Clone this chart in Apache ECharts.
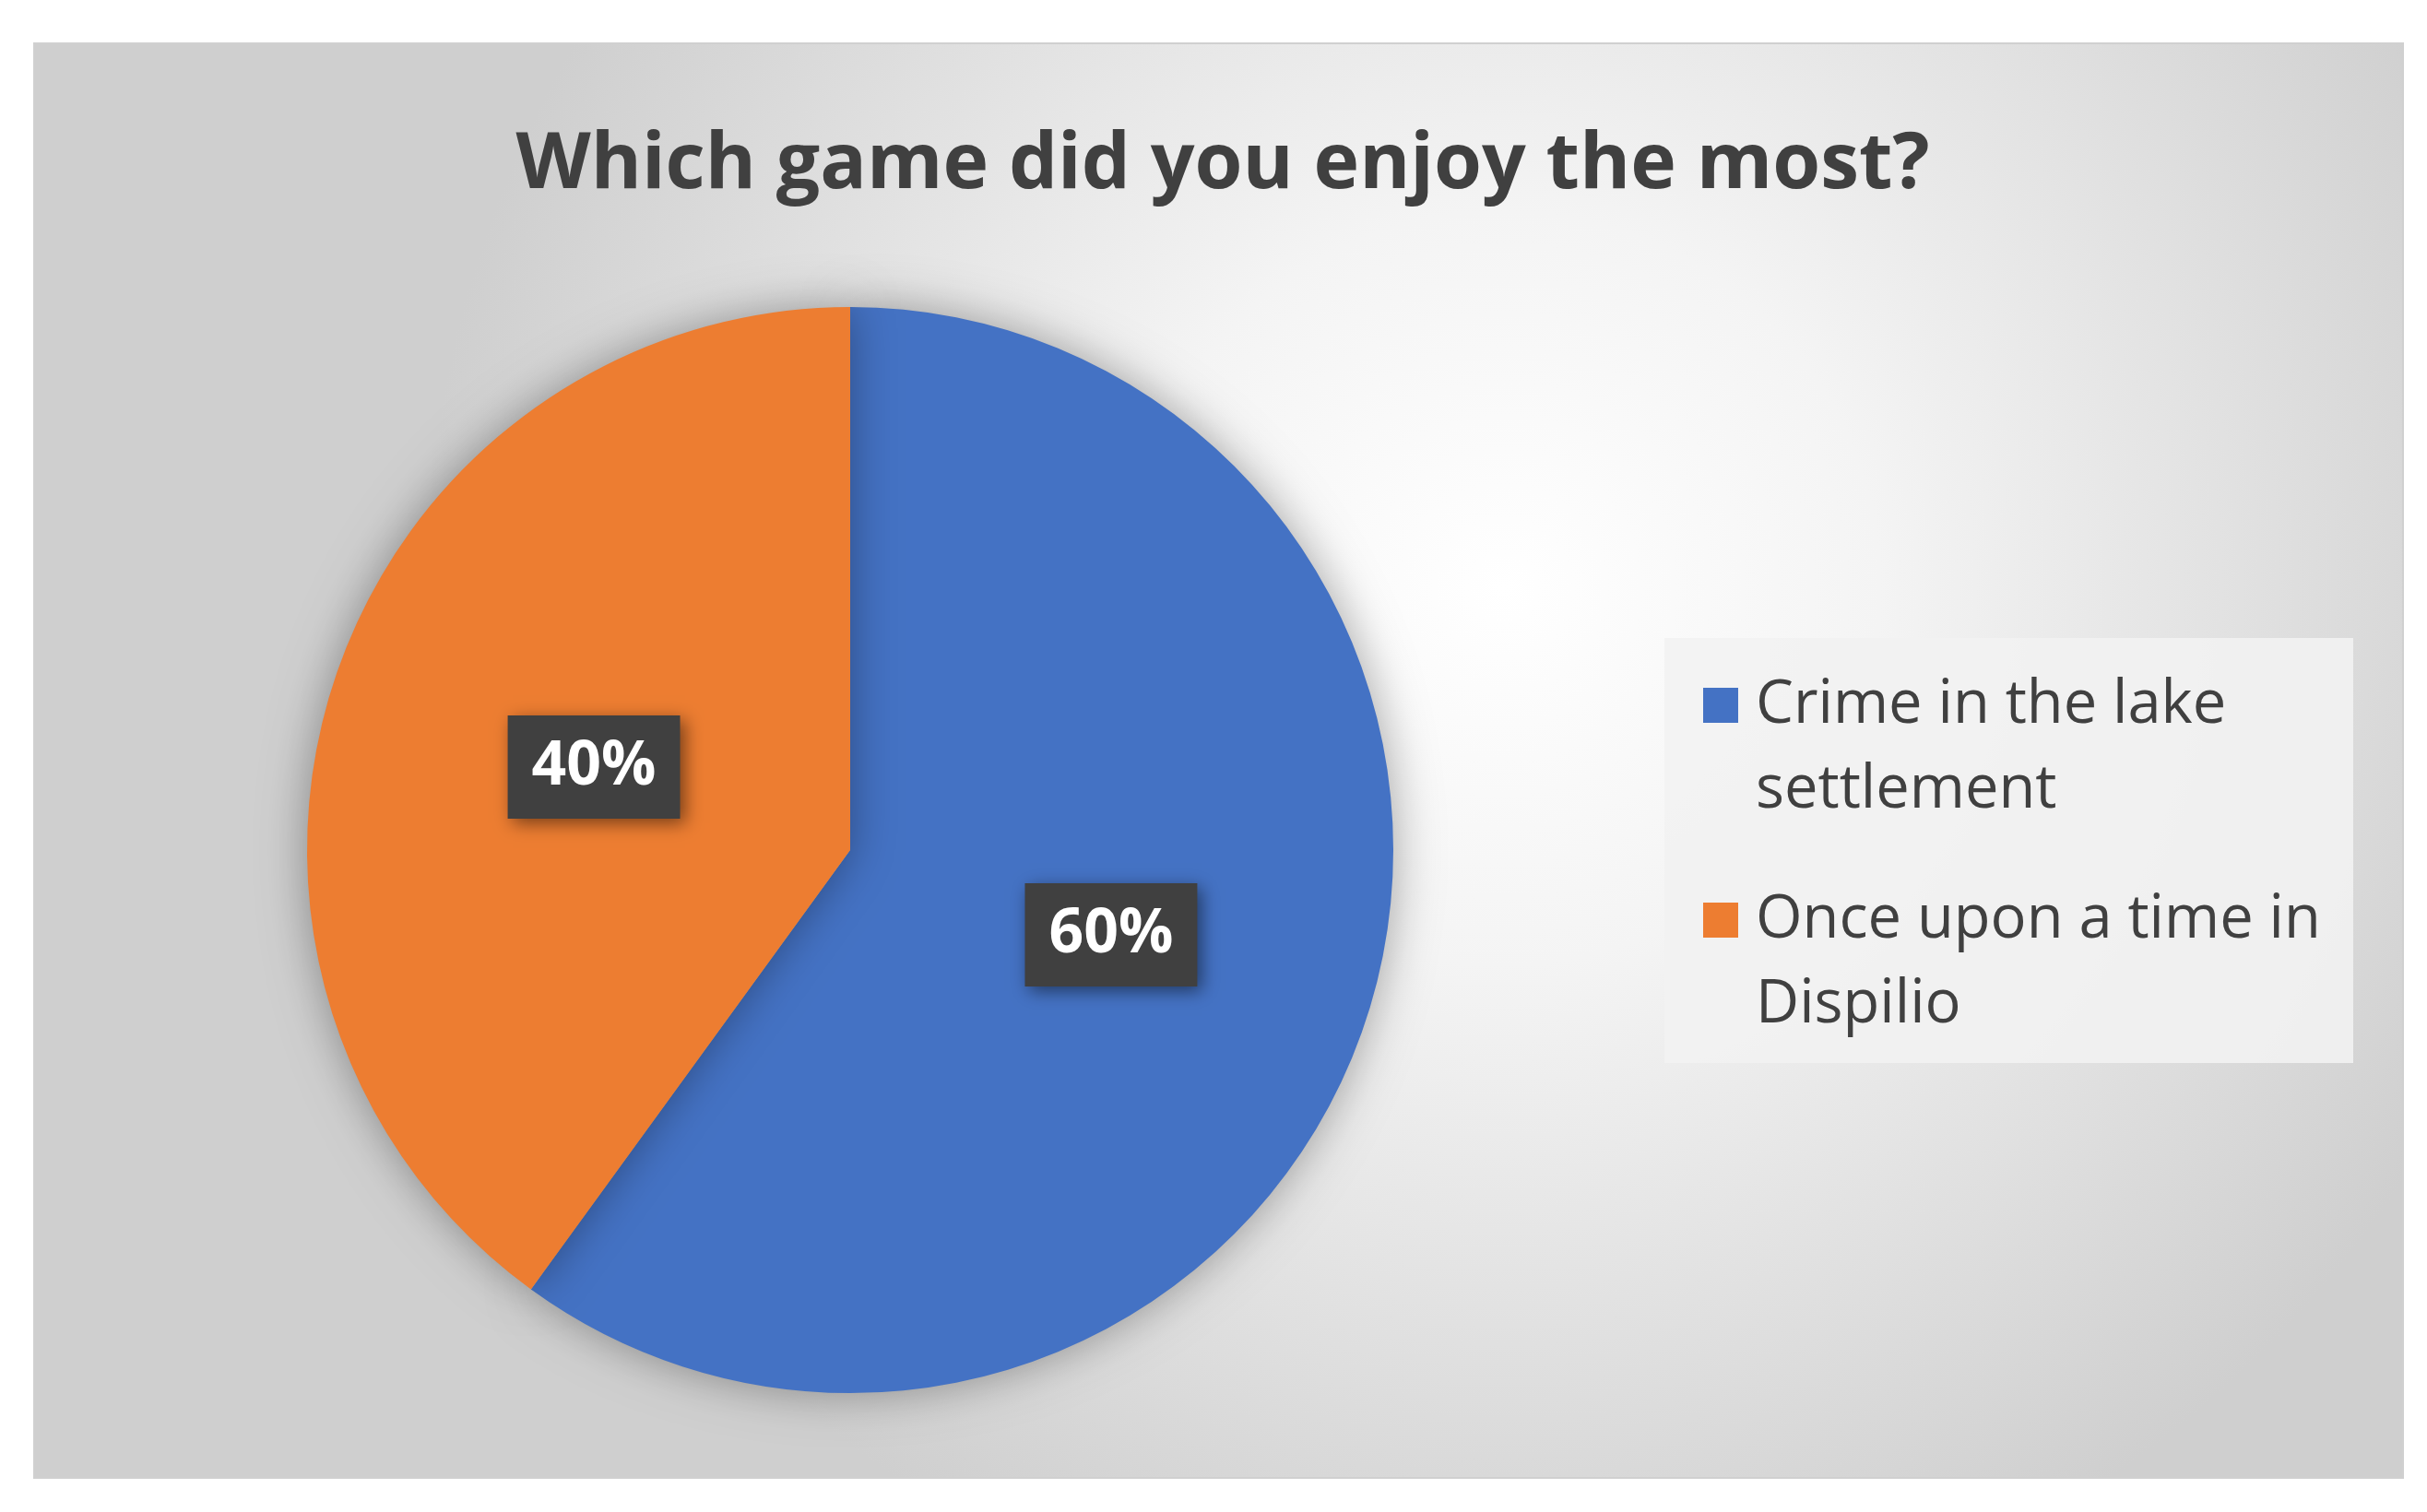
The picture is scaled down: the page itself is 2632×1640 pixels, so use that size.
<!DOCTYPE html>
<html><head><meta charset="utf-8">
<script src="https://cdn.jsdelivr.net/npm/echarts@6/dist/echarts.min.js"></script>
<style>html,body{margin:0;padding:0;background:#fff}#c{width:2632px;height:1640px}</style>
</head><body><div id="c"></div>
<script>
const categories = ['Crime in the lake\nsettlement', 'Once upon a time in\nDispilio'];
const values = [60, 40];
const colors = ['#4472C4', '#ED7D31'];
const chart = echarts.init(document.getElementById('c'));
chart.setOption({
  animation: false,
  graphic: [{
    type: 'rect', z: -10,
    shape: {x: 37, y: 47, width: 2569, height: 1556},
    style: {
      fill: new echarts.graphic.RadialGradient(0.62, 0.38, 0.75, [
        {offset: 0, color: '#ffffff'}, {offset: 0.35, color: '#f4f4f4'}, {offset: 1, color: '#cfcfcf'}]),
      stroke: '#d0d0d0', lineWidth: 2
    }
  }, {
    type: 'rect', z: -5,
    shape: {x: 1805, y: 692, width: 747, height: 461},
    style: {fill: 'rgba(242,242,242,0.9)'}
  }],
  title: {
    text: 'Which game did you enjoy the most?',
    left: 1321, top: 133, textAlign: 'center',
    textStyle: {fontFamily: 'Open Sans', fontWeight: 'bold', fontSize: 84, color: '#404040'}
  },
  legend: {
    orient: 'vertical', left: 1842, top: 714,
    itemWidth: 38, itemHeight: 130, itemGap: 49,
    icon: 'path://M0,0L10,0L10,10L0,10Z M0,34.2L0.01,34.2L0.01,34.21Z',
    textStyle: {fontFamily: 'Open Sans', fontSize: 65, color: '#404040', lineHeight: 92, padding: [0,0,0,14]},
    data: categories
  },
  series: [{
    type: 'pie', center: [922, 922], radius: [0, 589],
    startAngle: 90, clockwise: true,
    itemStyle: {shadowBlur: 50, shadowColor: 'rgba(0,0,0,0.35)'},
    label: {
      position: 'inside', formatter: '{d}%',
      fontFamily: 'Open Sans', fontWeight: 'bold', fontSize: 66, color: '#fff',
      backgroundColor: '#404040', padding: [26, 26, 20, 26],
      shadowBlur: 18, shadowColor: 'rgba(0,0,0,0.5)', shadowOffsetX: 5, shadowOffsetY: 5
    },
    labelLine: {show: false},
    data: categories.map((n, i) => ({
      name: n, value: values[i], itemStyle: {color: colors[i]},
      label: i === 1 ? {offset: [5, 2]} : {}
    }))
  }]
});
</script></body></html>
